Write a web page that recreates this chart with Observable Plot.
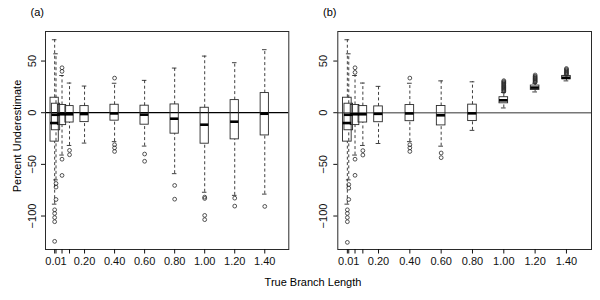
<!DOCTYPE html>
<html><head><meta charset="utf-8">
<script src="https://cdn.jsdelivr.net/npm/d3@7"></script>
<script src="https://cdn.jsdelivr.net/npm/@observablehq/plot@0.6"></script>
<style>
body{margin:0;background:#fff;}
#wrap{position:relative;width:600px;height:300px;font-family:"Liberation Sans",Arial,sans-serif;color:#000;overflow:hidden;}
.panel{position:absolute;top:0;}
.lbl{position:absolute;font-size:11px;white-space:nowrap;line-height:11px;}
#xlab{left:313px;top:276.5px;transform:translateX(-50%);}
#ylab{left:17px;top:135.5px;transform:translate(-50%,-50%) rotate(-90deg);}
</style></head><body>
<div id="wrap">
  <div id="pa" class="panel" style="left:0"></div>
  <div id="pb" class="panel" style="left:300px"></div>
  <div class="lbl" style="left:30.5px;top:7px">(a)</div>
  <div class="lbl" style="left:323px;top:7px">(b)</div>
  <div class="lbl" id="xlab">True Branch Length</div>
  <div class="lbl" id="ylab">Percent Underestimate</div>
</div>
<script>
// categories (true branch lengths) and axis ticks
const lengths = [0.001, 0.01, 0.05, 0.1, 0.2, 0.4, 0.6, 0.8, 1.0, 1.2, 1.4];
const xTicks = [0.001, 0.01, 0.05, 0.1, 0.2, 0.4, 0.6, 0.8, 1.0, 1.2, 1.4];
const xTickLabels = ["", "0.01", "", "", "0.20", "0.40", "0.60", "0.80", "1.00", "1.20", "1.40"];
const yTicks = [-100, -50, 0, 50];

// panel (a) box statistics
const aLo  = [-88.5, -65, -41, -31.7, -29.4, -28, -32.3, -59, -77, -80, -78.8];
const aQ1  = [-28, -17, -12, -9.5, -9.1, -7.7, -11.6, -20.3, -30, -25.8, -22];
const aMed = [-10, -2, -1.5, -1.5, -1.3, -0.7, -1.9, -5.8, -11.6, -8.7, -1];
const aQ3  = [14.5, 8.7, 7.5, 6.4, 6.4, 7.7, 6.8, 8, 4.8, 12.2, 19];
const aHi  = [70.6, 57, 36, 28.7, 25.8, 28.5, 31.3, 43.2, 54.8, 48.4, 61];
const aOut = [
  [-94, -97.5, -101.5, -105.5, -124.5],
  [-68.5, -72, -84],
  [40, 43.5, -45, -60.7],
  [-36.5, -40.7],
  [],
  [33.5, -31, -34, -37.5],
  [-40, -47],
  [-70.4, -83.7],
  [-81.7, -83, -99.4, -103.5],
  [-82.7, -90.4],
  [-90.7]
];

// panel (b) box statistics
const bLo  = [-88.5, -65, -41, -31.7, -29.8, -28, -32.4, -17.1, 4.6, 20.1, 30.8];
const bQ1  = [-28, -17, -12, -9.5, -9.2, -8.2, -12.3, -8.1, 9.1, 22, 32.3];
const bMed = [-10, -2, -1.5, -1.5, -1.1, -0.7, -2.5, -0.6, 12, 24.3, 33.8];
const bQ3  = [14.5, 8.7, 7.5, 6.4, 6.1, 7.4, 6.5, 7.8, 15, 26.3, 35.6];
const bHi  = [70.6, 57, 36, 28.7, 25.5, 28.5, 30.8, 29.9, 19.5, 28.5, 36.2];
const bOut = [
  [-94, -97.5, -101.5, -105.5, -125.5],
  [-69.5, -73, -84],
  [39, 43.5, -45, -60.6],
  [-36.7, -41],
  [],
  [33.5, -31, -34, -37.5],
  [-39, -43.5],
  [],
  [20.5, 21.3, 22.1, 22.9, 23.6, 24.5, 25.2, 26.0, 26.8, 27.7, 28.4, 29.3, 30.1, 31],
  [29.4, 30.2, 31.0, 31.9, 32.7, 33.5, 34.4, 35.3, 36.5],
  [36.9, 37.7, 38.5, 39.3, 40.1, 41.0, 41.9, 42.8]
];

function rowsOf(lo, q1, med, q3, hi) {
  return lengths.map((x, i) => ({x, lo: lo[i], q1: q1[i], med: med[i], q3: q3[i], hi: hi[i]}));
}
function outsOf(outs) {
  return lengths.flatMap((x, i) => outs[i].map(y => ({x, y})));
}

const bw = 0.055;        // box width (data units)
const cw = bw * 0.55;    // staple width
const ink = "#2a2a2a";

function panel(rows, outs, o) {
  return Plot.plot({
    width: 300, height: 300,
    marginLeft: o.ml, marginRight: o.mr, marginTop: 31, marginBottom: 51,
    x: {domain: [-0.06, 1.56]},
    y: {domain: [-132.4, 78.6]},
    style: {fontFamily: "'Liberation Sans', Arial, sans-serif", fontSize: "11px", color: "#111", background: "#fff", overflow: "visible"},
    marks: [
      Plot.ruleY([0], {stroke: o.zero, strokeWidth: o.zeroW}),
      Plot.rect(rows, {x1: d => d.x - bw / 2, x2: d => d.x + bw / 2, y1: "q1", y2: "q3", fill: "none", stroke: ink, strokeWidth: 0.9}),
      Plot.ruleX(rows, {x: "x", y1: "q3", y2: "hi", stroke: ink, strokeWidth: 0.9, strokeDasharray: "3,2.5"}),
      Plot.ruleX(rows, {x: "x", y1: "lo", y2: "q1", stroke: ink, strokeWidth: 0.9, strokeDasharray: "3,2.5"}),
      Plot.ruleY(rows, {y: "hi", x1: d => d.x - cw / 2, x2: d => d.x + cw / 2, stroke: ink, strokeWidth: 0.9}),
      Plot.ruleY(rows, {y: "lo", x1: d => d.x - cw / 2, x2: d => d.x + cw / 2, stroke: ink, strokeWidth: 0.9}),
      Plot.ruleY(rows, {y: "med", x1: d => d.x - bw / 2, x2: d => d.x + bw / 2, stroke: "#000", strokeWidth: 2.6}),
      Plot.dot(outs, {x: "x", y: "y", r: 1.9, stroke: ink, strokeWidth: 0.8, fill: "none"}),
      Plot.frame({stroke: ink, strokeWidth: 1}),
      Plot.axisX({ticks: xTicks, tickFormat: d => xTickLabels[xTicks.indexOf(d)], tickSize: 4.5, tickPadding: 3.5, label: null}),
      Plot.axisY({ticks: yTicks, tickRotate: -90, tickSize: 4, tickPadding: o.yPad, label: null})
    ]
  });
}

document.getElementById("pa").appendChild(
  panel(rowsOf(aLo, aQ1, aMed, aQ3, aHi), outsOf(aOut), {ml: 45, mr: 11.7, zero: "#000", zeroW: 1.2, yPad: 5.5}));
document.getElementById("pb").appendChild(
  panel(rowsOf(bLo, bQ1, bMed, bQ3, bHi), outsOf(bOut), {ml: 37.3, mr: 9, zero: "#777", zeroW: 1.6, yPad: 7}));
</script>
</body></html>
